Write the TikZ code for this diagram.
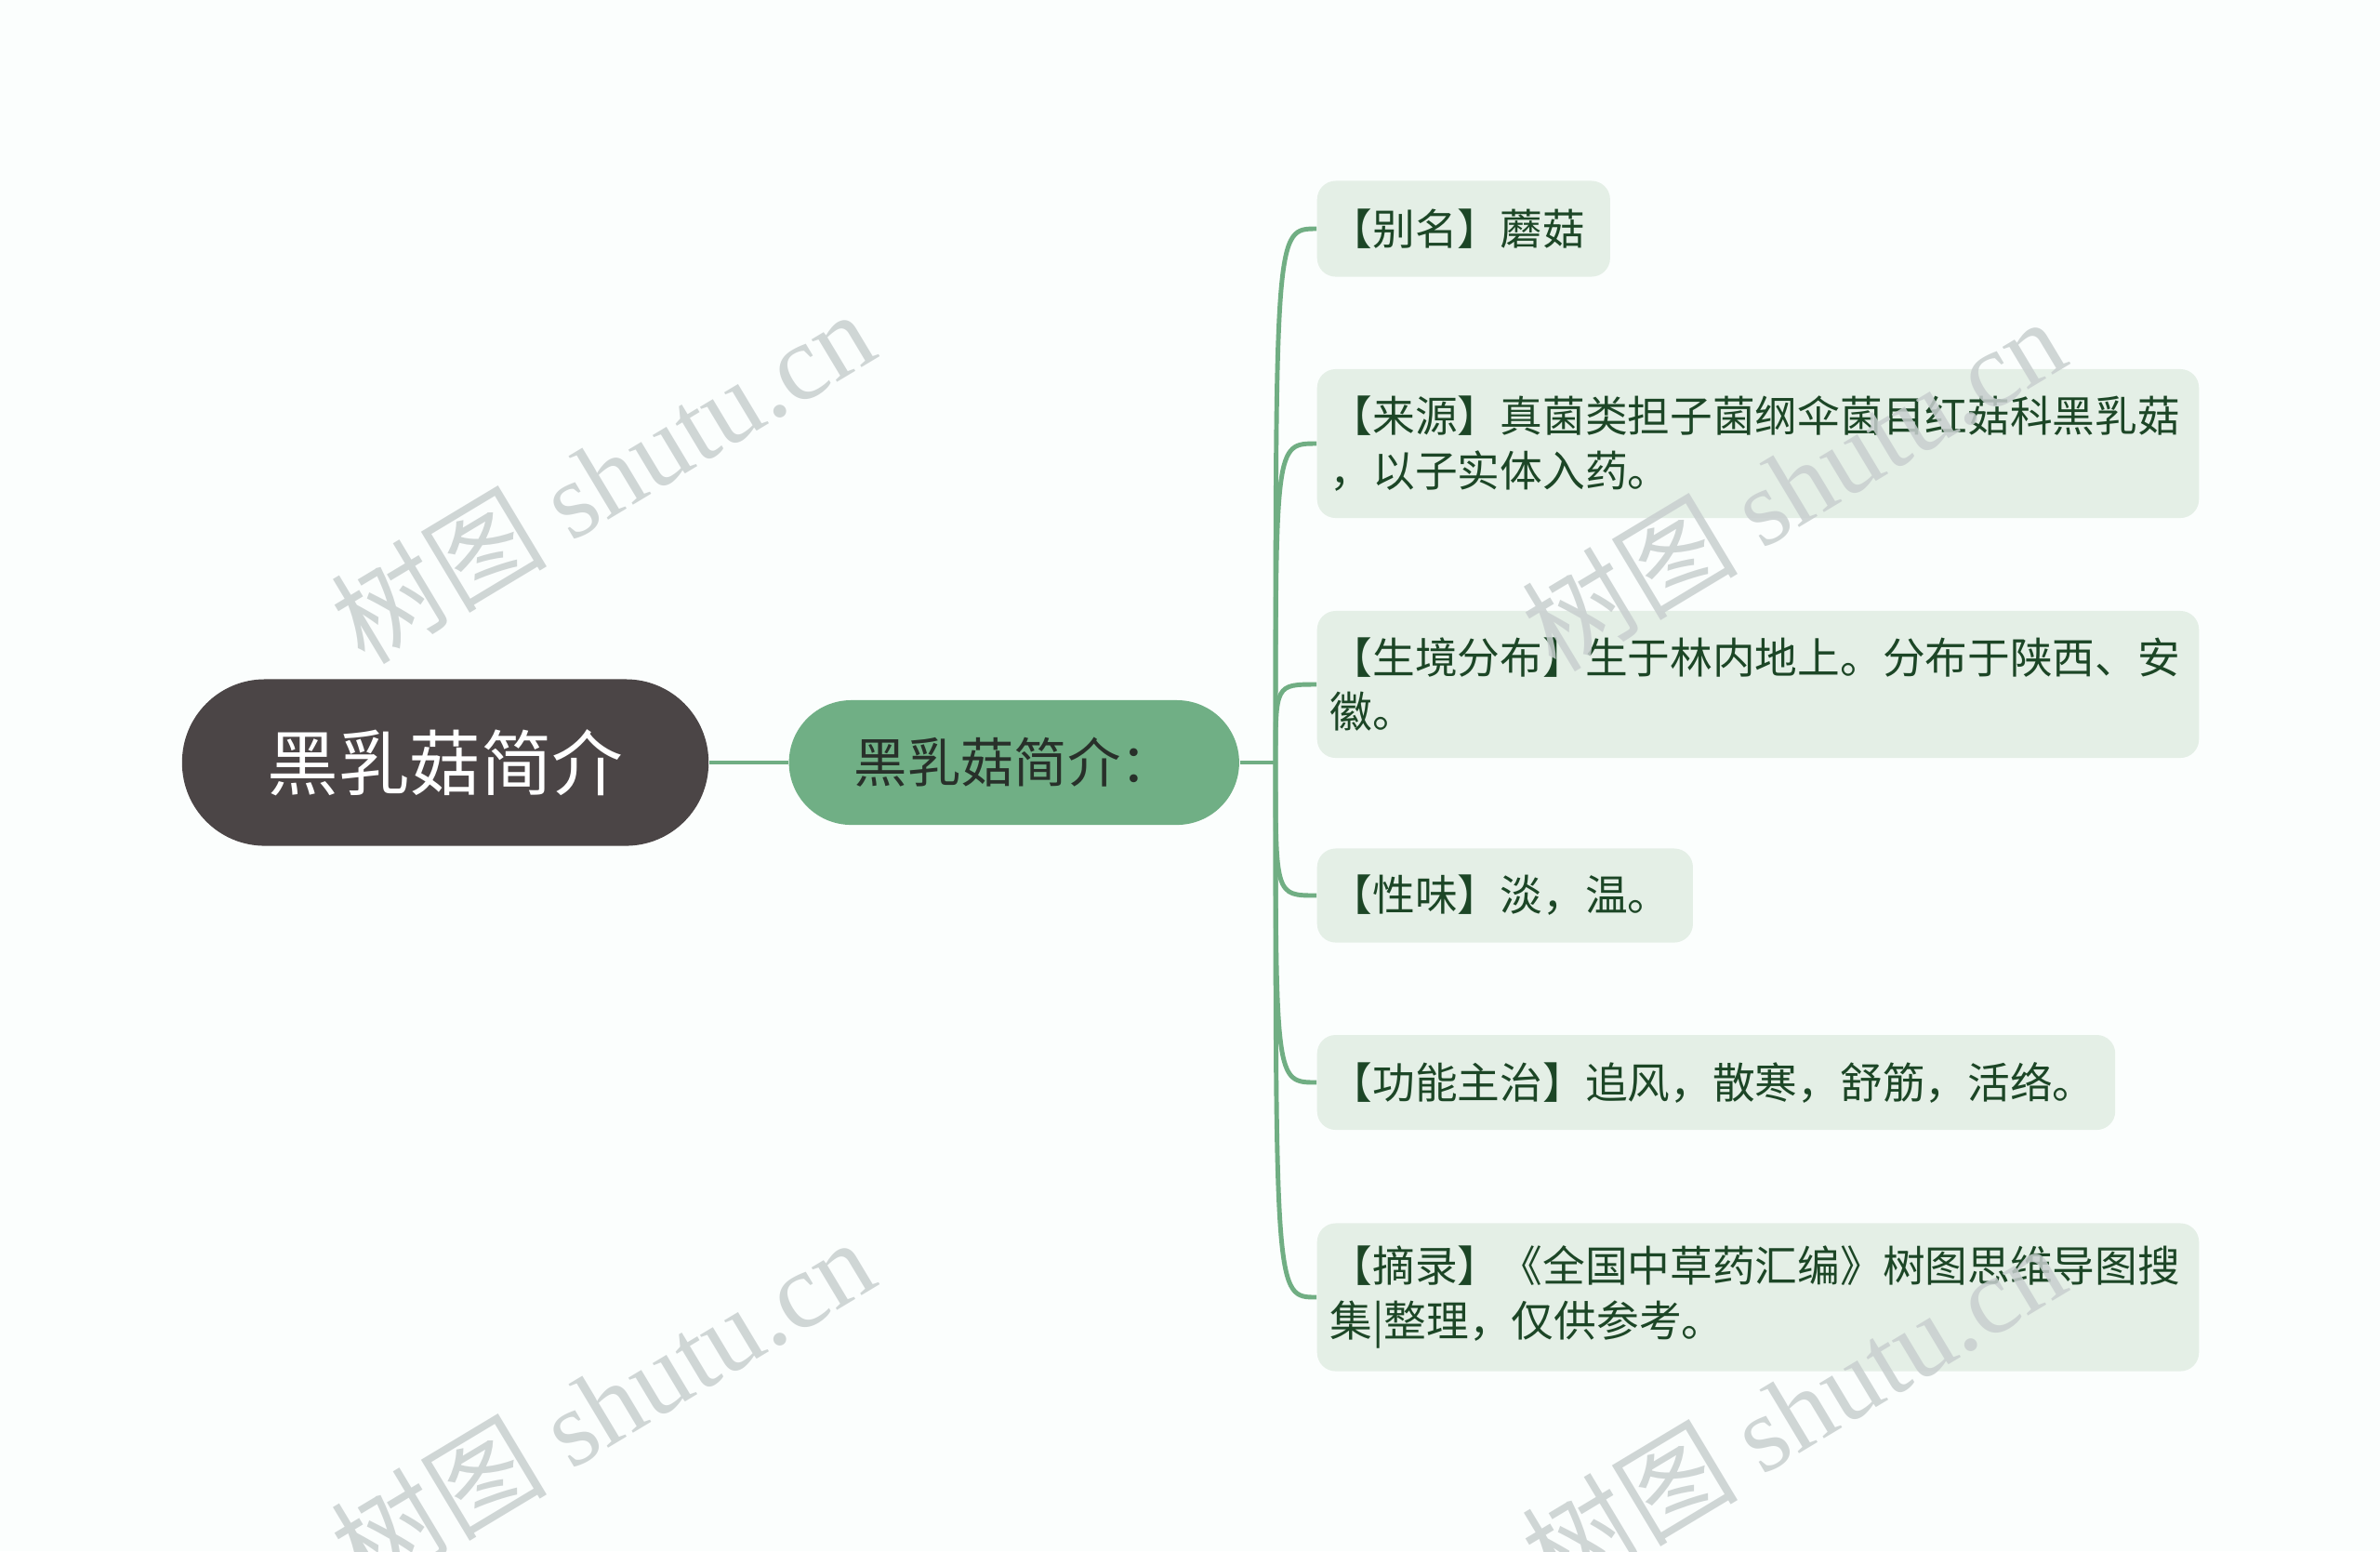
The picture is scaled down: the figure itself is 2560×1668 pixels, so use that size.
\documentclass[tikz,border=0pt]{standalone}
\usepackage{fontspec}
\setmainfont{Noto Sans CJK SC}
\newfontfamily\wmlatin{Liberation Serif}
\usetikzlibrary{positioning}
\definecolor{bgcolor}{RGB}{251,254,253}
\definecolor{rootcolor}{RGB}{75,69,70}
\definecolor{introcolor}{RGB}{112,175,133}
\definecolor{leafcolor}{RGB}{228,239,230}
\definecolor{linecolor}{RGB}{112,174,131}
\definecolor{leaftext}{RGB}{28,70,38}
\definecolor{introtext}{RGB}{40,48,42}
\definecolor{markcolor}{RGB}{200,207,207}
\tikzset{
    rootnode/.style={rectangle, fill=rootcolor, rounded corners=0.89cm,
        minimum width=5.66cm, minimum height=1.79cm, text=white,
        font=\fontsize{21.8pt}{26pt}\selectfont},
    intronode/.style={rectangle, fill=introcolor, rounded corners=0.67cm,
        minimum width=4.84cm, minimum height=1.34cm, text=introtext,
        font=\fontsize{16.3pt}{20pt}\selectfont},
    leafnode/.style={rectangle, fill=leafcolor, rounded corners=0.2cm, anchor=west,
        align=left, inner xsep=0.14cm, inner ysep=0pt, text=leaftext,
        font=\fontsize{13pt}{16.6pt}\selectfont},
    branch/.style={draw=linecolor, line width=1.4pt},
    watermark/.style={text=markcolor, opacity=0.85, rotate=31,
        font=\fontsize{33pt}{38pt}\selectfont}
}

\begin{document}
\begin{tikzpicture}[x=0.01cm, y=-0.01cm]

    \fill[bgcolor] (0,0) rectangle (2560,1668);
    \useasboundingbox (0,0) rectangle (2560,1668);
    \clip (0,0) rectangle (2560,1668);

    \node[rootnode] (root) at (479,820) {黑乳菇简介};
    \node[intronode, right=0.85cm of root] (intro) {黑乳菇简介：};
    \coordinate (hub) at (1372,820);

    \node[leafnode, text width=2.87cm, minimum height=1.03cm] (alias) at (1416,246) {【别名】蘑菇};
    \node[leafnode, text width=9.20cm, minimum height=1.60cm] (source) at (1416,477) {【来源】真菌类担子菌纲伞菌目红菇科黑乳菇\\，以子实体入药。};
    \node[leafnode, text width=9.20cm, minimum height=1.58cm] (habitat) at (1416,736) {【生境分布】生于林内地上。分布于陕西、安\\徽。};
    \node[leafnode, text width=3.76cm, minimum height=1.01cm] (taste) at (1416,963) {【性味】淡，温。};
    \node[leafnode, text width=8.30cm, minimum height=1.02cm] (usage) at (1416,1164) {【功能主治】追风，散寒，舒筋，活络。};
    \node[leafnode, text width=9.20cm, minimum height=1.59cm] (excerpt) at (1416,1395) {【摘录】《全国中草药汇编》树图思维导图搜\\集|整理，仅供参考。};

    \draw[branch] (root) -- (intro);
    \draw[branch] (intro.east) -- (hub);
    \draw[branch] (hub) .. controls (hub |- alias.west) and (hub |- alias.west) .. (alias.west);
    \draw[branch] (hub) .. controls (hub |- source.west) and (hub |- source.west) .. (source.west);
    \draw[branch] (hub) .. controls (hub |- habitat.west) and (hub |- habitat.west) .. (habitat.west);
    \draw[branch] (hub) .. controls (hub |- taste.west) and (hub |- taste.west) .. (taste.west);
    \draw[branch] (hub) .. controls (hub |- usage.west) and (hub |- usage.west) .. (usage.west);
    \draw[branch] (hub) .. controls (hub |- excerpt.west) and (hub |- excerpt.west) .. (excerpt.west);

    % watermarks
    \node[watermark] (markA) at (648,512) {树图 {\wmlatin shutu.cn}};
    \node[watermark] (markB) at (1929,520) {树图 {\wmlatin shutu.cn}};
    \node[watermark] (markC) at (648,1510) {树图 {\wmlatin shutu.cn}};
    \node[watermark] (markD) at (1929,1516) {树图 {\wmlatin shutu.cn}};

\end{tikzpicture}
\end{document}
